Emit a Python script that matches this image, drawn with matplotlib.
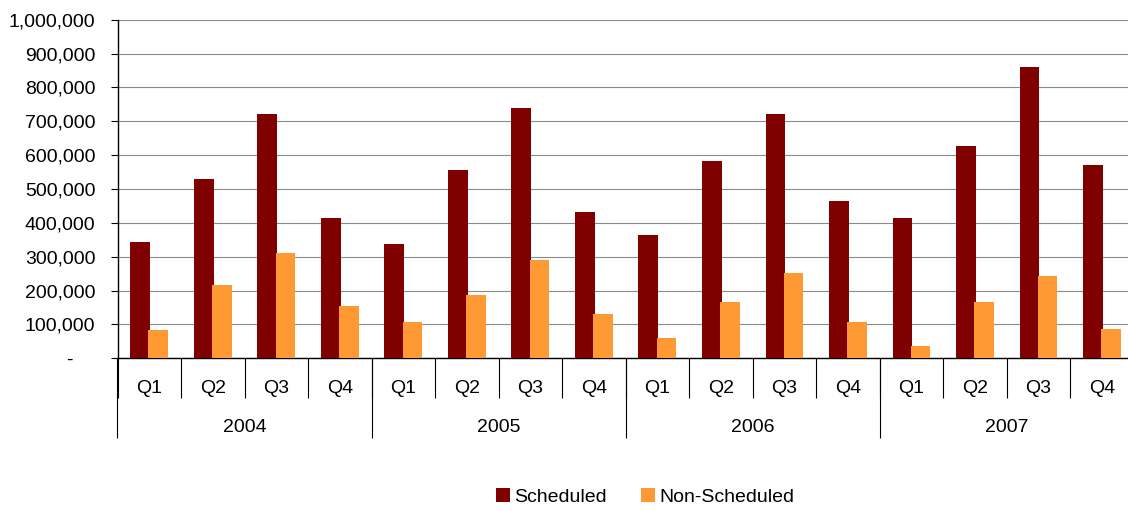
import matplotlib
matplotlib.use("Agg")
import matplotlib.pyplot as plt
import numpy as np
from matplotlib.ticker import FixedLocator, NullFormatter

plt.rcParams['font.family'] = ['Liberation Sans', 'DejaVu Sans']

years = ["2004", "2005", "2006", "2007"]
quarters = ["Q1", "Q2", "Q3", "Q4"]
scheduled = [342000, 529000, 722000, 415000,
             338000, 556000, 738000, 433000,
             363000, 584000, 721000, 465000,
             413000, 626000, 861000, 570000]
non_scheduled = [84000, 217000, 310000, 155000,
                 107000, 186000, 289000, 130000,
                 61000, 167000, 253000, 107000,
                 37000, 165000, 242000, 86000]
series_names = ["Scheduled", "Non-Scheduled"]
colors = ["#800000", "#FF9933"]
y_ticks = [0, 100000, 200000, 300000, 400000, 500000, 600000, 700000, 800000, 900000, 1000000]

n = len(scheduled)
x = np.arange(n)
fs = 14

fig = plt.figure(figsize=(11.28, 5.11), dpi=100)
ax = fig.add_axes([117.5/1128, 1-358.3/511, (1133.8-117.5)/1128, (358.3-19.7)/511])

w = 0.31
ax.bar(x - 0.143, scheduled, width=w, color=colors[0], label=series_names[0], zorder=3)
ax.bar(x + 0.143, non_scheduled, width=w, color=colors[1], label=series_names[1], zorder=3)

ax.set_xlim(-0.5, n - 0.5)
ax.set_ylim(0, 1000000)
ax.set_yticks(y_ticks)
ax.set_yticklabels([f"{v:,}" if v else "-    " for v in y_ticks], fontsize=fs)
ax.yaxis.grid(True, color="#8a8a8a", linewidth=0.8, zorder=0)
ax.tick_params(axis='y', length=5, width=0.8, pad=11, colors='black')

for s in ["top", "right"]:
    ax.spines[s].set_visible(False)
ax.spines["left"].set_linewidth(1.0)
ax.spines["bottom"].set_linewidth(1.0)

# quarter boundaries as major ticks; quarter labels as minor ticks
ax.xaxis.set_major_locator(FixedLocator(np.arange(-0.5, n, 1.0)))
ax.xaxis.set_major_formatter(NullFormatter())
ax.tick_params(axis='x', which='major', length=29, width=0.8, direction='out')
ax.set_xticks(x, minor=True)
ax.set_xticklabels([quarters[i % 4] for i in range(n)], minor=True, fontsize=fs)
ax.tick_params(axis='x', which='minor', length=0, pad=15.5)

# year level
sec = ax.secondary_xaxis('bottom')
sec.spines['bottom'].set_visible(False)
sec.xaxis.set_major_locator(FixedLocator(np.arange(-0.5, n + 1, 4.0)))
sec.xaxis.set_major_formatter(NullFormatter())
sec.tick_params(axis='x', which='major', length=57.5, width=0.8, direction='out')
sec.set_xticks(np.arange(1.5, n, 4.0), minor=True)
sec.set_xticklabels(years, minor=True, fontsize=fs)
sec.tick_params(axis='x', which='minor', length=0, pad=44)

fig.legend(loc='center', bbox_to_anchor=(645/1128, 1-497/511), ncol=2, frameon=False,
           fontsize=fs, handlelength=0.72, handleheight=0.7, handletextpad=0.22,
           columnspacing=1.75, borderpad=0)

fig.savefig("out.png", dpi=100)
